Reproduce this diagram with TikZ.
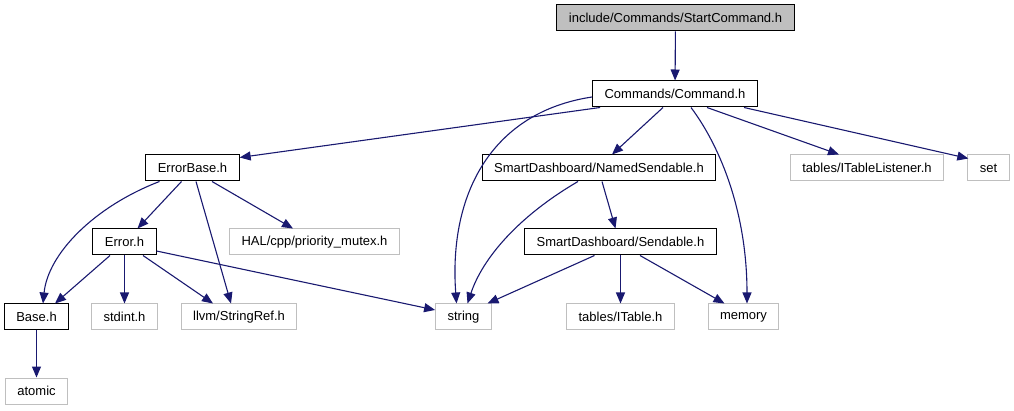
\documentclass[tikz,border=0pt]{standalone}
\usepackage{fontspec}
\setmainfont{Liberation Sans}
\usepackage{tikz}
\usetikzlibrary{arrows.meta}

\definecolor{edgeblue}{HTML}{191970}
\definecolor{extgray}{HTML}{BFBFBF}

\tikzset{
  file/.style={draw=black, line width=1pt, fill=white, minimum height=26pt, inner xsep=12pt, inner ysep=0pt},
  extfile/.style={file, draw=extgray},
  mainfile/.style={file, fill=extgray},
  dep/.style={->, edgeblue, line width=1.1pt}
}

\begin{document}
\begin{tikzpicture}[x=1pt, y=-1pt, font=\fontsize{13}{15}\selectfont, >={Triangle[length=11pt, width=9pt]}]
  \useasboundingbox (0, 0) rectangle (1014, 411);

  \node[mainfile] (start) at (675.5, 18) {include/Commands/StartCommand.h};
  \node[file] (cmd) at (675, 94) {Commands/Command.h};
  \node[file] (errbase) at (192.5, 168) {ErrorBase.h};
  \node[file] (named) at (599, 168) {SmartDashboard/NamedSendable.h};
  \node[extfile] (listener) at (867, 168) {tables/ITableListener.h};
  \node[extfile] (set) at (988.5, 168) {set};
  \node[file] (error) at (124.5, 242) {Error.h};
  \node[extfile] (mutex) at (314.5, 242) {HAL/cpp/priority\_mutex.h};
  \node[file] (sendable) at (620.5, 242) {SmartDashboard/Sendable.h};
  \node[file] (base) at (36.5, 317) {Base.h};
  \node[extfile] (stdint) at (124.5, 317) {stdint.h};
  \node[extfile] (stringref) at (239, 317) {llvm/StringRef.h};
  \node[extfile] (string) at (463.5, 317) {string};
  \node[extfile] (itable) at (620.5, 317) {tables/ITable.h};
  \node[extfile] (memory) at (743.5, 317) {memory};
  \node[extfile] (atomic) at (36.5, 391) {atomic};

  \draw[dep] (start) -- (cmd);
  \draw[dep] ([xshift=8pt]cmd.south west) -- ([yshift=-3pt]errbase.north east);
  \draw[dep] ([yshift=-3pt]cmd.west) .. controls +(-100, 15) and +(-8, -110) .. ([xshift=-7pt]string.north);
  \draw[dep] ([xshift=-12pt]cmd.south) -- ([xshift=13pt]named.north);
  \draw[dep] ([xshift=16pt]cmd.south) .. controls +(30, 40) and +(0, -90) .. ([xshift=3.5pt]memory.north);
  \draw[dep] ([xshift=32pt]cmd.south) -- ([xshift=-28pt]listener.north);
  \draw[dep] ([xshift=69pt]cmd.south) -- ([xshift=1pt, yshift=-4pt]set.north west);

  \draw[dep] ([xshift=-11pt]errbase.south) -- ([xshift=13pt]error.north);
  \draw[dep] ([xshift=-33pt]errbase.south) .. controls +(-65, 25) and +(5, -50) .. ([xshift=6.5pt]base.north);
  \draw[dep] ([xshift=3.5pt]errbase.south) -- ([xshift=-8pt]stringref.north);
  \draw[dep] ([xshift=19.5pt]errbase.south) -- ([xshift=-21.5pt]mutex.north);

  \draw[dep] ([xshift=-14.5pt]error.south) -- ([xshift=18.5pt]base.north);
  \draw[dep] (error) -- (stdint);
  \draw[dep] ([xshift=18.5pt]error.south) -- ([xshift=-26pt]stringref.north);
  \draw[dep] ([yshift=-9pt]error.east) -- ([yshift=7pt]string.west);

  \draw[dep] (base) -- (atomic);

  \draw[dep] ([xshift=-21pt]named.south) .. controls +(-60, 35) and +(15, -45) .. ([xshift=4pt]string.north);
  \draw[dep] ([xshift=3pt]named.south) -- ([xshift=-5pt]sendable.north);

  \draw[dep] ([xshift=-26pt]sendable.south) -- ([xshift=24pt]string.north);
  \draw[dep] (sendable) -- (itable);
  \draw[dep] ([xshift=19.5pt]sendable.south) -- ([xshift=-19pt]memory.north);
\end{tikzpicture}
\end{document}
